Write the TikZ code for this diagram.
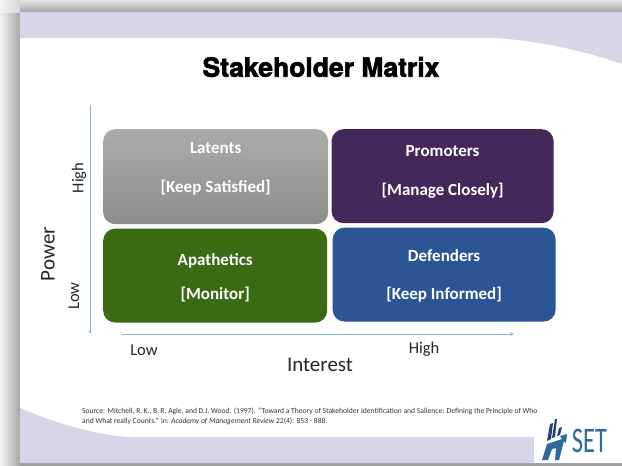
\documentclass[tikz,border=0pt]{standalone}
\usepackage{fontspec}
\setmainfont{Carlito}
\newfontfamily\titlefont[FakeBold=2.2]{TeX Gyre Heros}
\usepackage{xcolor}
\usepackage{tikz}
\usetikzlibrary{positioning, arrows.meta, calc}
\definecolor{bandcolor}{HTML}{D6D6E8}
\definecolor{axiscolor}{HTML}{8FB3D6}
\definecolor{logocolor}{HTML}{2A6C9E}
\definecolor{logodark}{HTML}{27407A}
\definecolor{promotercolor}{HTML}{42295A}
\definecolor{apatheticcolor}{HTML}{3A6B14}
\definecolor{defendercolor}{HTML}{2B5595}

\begin{document}
\begin{tikzpicture}[
    x=1pt, y=-1pt,
    boxnode/.style={rectangle, rounded corners=12pt, inner sep=0pt},
    boxtext/.style={text=white, font=\bfseries\fontsize{17}{20}\selectfont, inner sep=0pt},
    axislabel/.style={font=\fontsize{16.5}{18}\selectfont, text=black!85, inner sep=0pt},
    axisname/.style={font=\fontsize{21}{23}\selectfont, text=black!85, inner sep=0pt},
    axisline/.style={draw=axiscolor, line width=0.7pt, -{Stealth[length=4pt,width=3.5pt]}},
]
\useasboundingbox (0,0) rectangle (622,466);
% frame and bands
\shade[left color=black!5, right color=black!35] (0,0) rectangle (20,466);
\shade[top color=black!10, bottom color=black!35] (20,0) rectangle (622,12);
\shade[left color=black!4, right color=black!16] (0,0) rectangle (20,12);
\fill[black!38] (20,463) rectangle (622,466);
\fill[white] (20,12) rectangle (622,463);
\fill[bandcolor] (20,12) -- (622,12) -- (622,64) .. controls (585,51) and (540,41) .. (496,38) -- (20,38) -- cycle;
\fill[bandcolor] (20,408) .. controls (50,421) and (90,434) .. (127,437) -- (622,437) -- (622,463) -- (20,463) -- cycle;
% title
\node[font=\titlefont\bfseries\fontsize{26.5}{28}\selectfont, inner sep=0pt, align=center] (title) at (321,67) {Stakeholder Matrix};
% matrix
\node[boxnode, minimum width=225pt, minimum height=95pt, top color=black!33, bottom color=black!45, anchor=north west] (latents) at (103,129) {};
\node[boxnode, fill=promotercolor, minimum width=222pt, minimum height=94pt, right=3pt of latents.north east, anchor=north west] (promoters) {};
\node[boxnode, fill=apatheticcolor, minimum width=224pt, minimum height=94pt, below=4pt of latents.south west, anchor=north west] (apathetics) {};
\node[boxnode, fill=defendercolor, minimum width=223pt, minimum height=94pt, below=4pt of promoters.south west, anchor=north west, xshift=1pt] (defenders) {};
\node[boxtext] (latentsname) at ([yshift=-19pt]latents.north) {Latents};
\node[boxtext] (latentsaction) at ([yshift=-59pt]latents.north) {[Keep Satisfied]};
\node[boxtext] (promotersname) at ([yshift=-22pt]promoters.north) {Promoters};
\node[boxtext] (promotersaction) at ([yshift=-62pt]promoters.north) {[Manage Closely]};
\node[boxtext] (apatheticsname) at ([yshift=-32pt]apathetics.north) {Apathetics};
\node[boxtext] (apatheticsaction) at ([yshift=-66pt]apathetics.north) {[Monitor]};
\node[boxtext] (defendersname) at ([yshift=-28pt]defenders.north) {Defenders};
\node[boxtext] (defendersaction) at ([yshift=-67pt]defenders.north) {[Keep Informed]};
% axes
\coordinate (powerstart) at (90,105);
\coordinate (powerend) at (90,334);
\coordinate (intereststart) at (122,334);
\coordinate (interestend) at (514,334);
\draw[axisline] (powerstart) -- (powerend);
\draw[axisline] (intereststart) -- (interestend);
\node[axislabel, rotate=90] (powerhigh) at (79,178) {High};
\node[axislabel, rotate=90] (powerlow) at (74,296) {Low};
\node[axisname, rotate=90] (power) at (48,254) {Power};
\node[axislabel] (interestlow) at (144,350) {Low};
\node[axislabel] (interesthigh) at (424,349) {High};
\node[axisname] (interest) at (320,365) {Interest};
% source
\node[font=\fontsize{7.6}{10.5}\selectfont, text=black!80, inner sep=0pt, anchor=north west, align=left] (source) at (82,407.5) {Source: Mitchell, R.\,K., B.\,R. Agle, and D.J. Wood. (1997). ``Toward a Theory of Stakeholder Identification and Salience: Defining the Principle of Who\\and What really Counts.'' in: \textit{Academy of Management Review} 22(4): 853 - 888.};
% logo
\fill[white] (534,432) rectangle (622,463);
\fill[logocolor] (542,460) -- (547,444) -- (562,439) -- (560,436) -- (567,434) -- (566,443) -- (564,441) -- (559,460) -- (555,460) -- (556,448) -- (552,449) -- (548,460) -- cycle;
\fill[logodark] (547,441) -- (550,424) -- (553,423) -- (551,439) -- cycle;
\fill[logodark] (552,438) -- (555,419) -- (557,419) -- (555,437) -- cycle;
\fill[logodark] (557,436) -- (559,428) -- (562,427) -- (560,435) -- cycle;
\node[font=\fontsize{36}{38}\selectfont, text=logocolor, inner sep=0pt, xscale=0.68] (logo) at (589.5,441) {SET};
\end{tikzpicture}
\end{document}
